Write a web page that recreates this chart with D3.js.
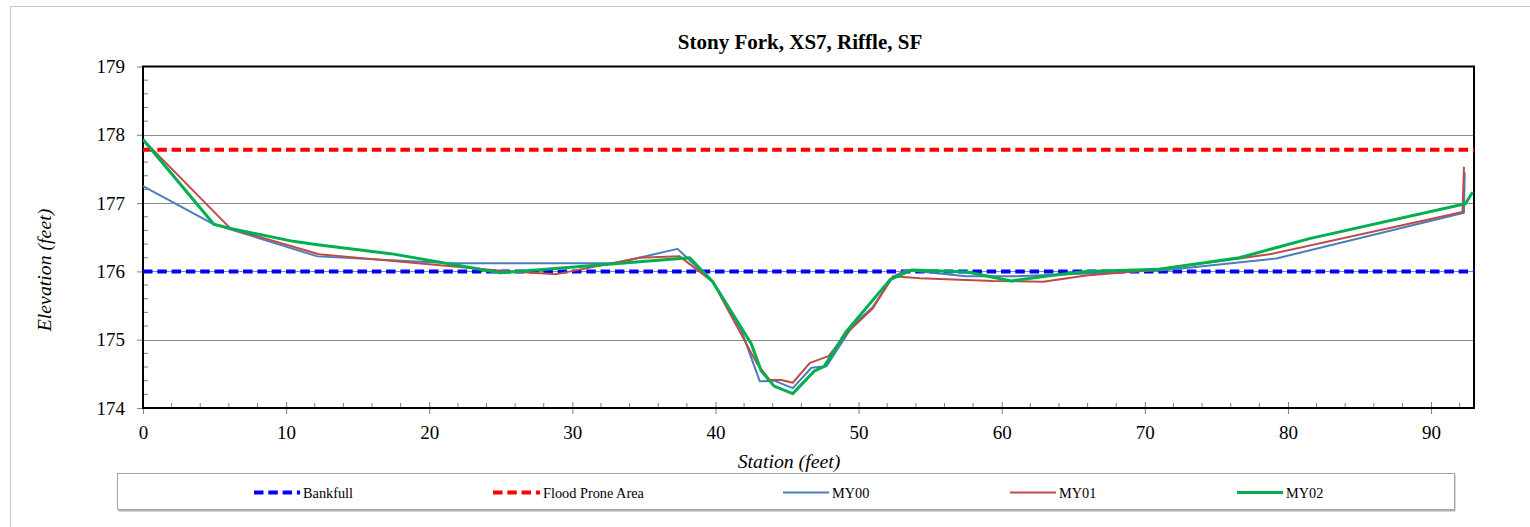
<!DOCTYPE html>
<html>
<head>
<meta charset="utf-8">
<script src="https://cdn.jsdelivr.net/npm/d3@7"></script>
<style>
  html, body { margin: 0; padding: 0; background: #fff; }
  svg { display: block; }
  svg text { font-family: "Liberation Serif", "DejaVu Serif", serif; }
</style>
</head>
<body>
<svg id="chart" width="1530" height="527"></svg>
<script>
// ---- data ----
const title = "Stony Fork, XS7, Riffle, SF";
const xTicks = [0, 10, 20, 30, 40, 50, 60, 70, 80, 90];
const yTicks = [174, 175, 176, 177, 178, 179];
const bankfull = 176.0;
const floodProne = 177.78;

const my00X = [0, 4.95, 12.2, 21.5, 33, 37.35, 39.8, 41.8, 43.1, 44.1, 45.4, 46.7, 47.75, 49.6, 51.0, 52.4, 53.3, 57.5, 61, 66, 71.5, 79.2, 92.3, 92.35];
const my00Y = [177.25, 176.69, 176.22, 176.12, 176.12, 176.33, 175.85, 175.14, 174.39, 174.40, 174.29, 174.59, 174.61, 175.21, 175.48, 175.92, 176.02, 175.93, 175.93, 175.97, 176.02, 176.19, 176.86, 177.45];

const my01X = [0, 6.1, 12.3, 25, 28.9, 34.7, 37.5, 39.8, 41.9, 42.9, 43.8, 44.6, 45.4, 46.6, 47.9, 49.2, 51.0, 52.4, 54.3, 59.4, 62.9, 65.9, 70.5, 76.6, 78.7, 92.2, 92.3];
const my01Y = [177.93, 176.63, 176.25, 176.01, 175.96, 176.2, 176.22, 175.85, 175.04, 174.65, 174.41, 174.41, 174.37, 174.66, 174.76, 175.1, 175.46, 175.93, 175.9, 175.86, 175.85, 175.94, 176.02, 176.19, 176.25, 176.87, 177.53];

const my02X = [0, 4.95, 6.1, 10.5, 12.2, 17.3, 24.95, 38.2, 39.8, 42.5, 43.2, 44.1, 45.4, 46.9, 47.6, 49.1, 52.2, 53.7, 57.6, 60.66, 63.45, 65.9, 71.0, 76.6, 81.5, 92.4, 92.9];
const my02Y = [177.93, 176.69, 176.63, 176.44, 176.39, 176.26, 175.98, 176.2, 175.85, 174.94, 174.54, 174.32, 174.21, 174.54, 174.61, 175.11, 175.88, 176.02, 175.99, 175.86, 175.94, 176.0, 176.03, 176.2, 176.48, 176.99, 177.16];

const legendNames = ["Bankfull", "Flood Prone Area", "MY00", "MY01", "MY02"];

// ---- layout ----
const FONT = "Liberation Serif, DejaVu Serif, serif";
const svg = d3.select("#chart");
const L = 143, R = 1474, T = 66.5, B = 408;
const x = d3.scaleLinear().domain([0, 93]).range([L, R]);
const y = d3.scaleLinear().domain([174, 179]).range([B, T]);

// outer chart border
svg.append("rect").attr("x", 10.5).attr("y", 6.5).attr("width", 1540).attr("height", 540)
  .attr("fill", "none").attr("stroke", "#c8c8c8").attr("stroke-width", 1);

// title
svg.append("text").attr("x", 800).attr("y", 48.5).attr("text-anchor", "middle")
  .attr("font-family", FONT).attr("font-weight", "bold").attr("font-size", 21).text(title);

// gridlines
svg.append("g").selectAll("line").data(yTicks.filter(d => d > 174 && d < 179)).join("line")
  .attr("x1", L).attr("x2", R)
  .attr("y1", d => Math.round(y(d)) + 0.5).attr("y2", d => Math.round(y(d)) + 0.5)
  .attr("stroke", "#8a8a8a").attr("stroke-width", 1);

// minor ticks
const xMinor = d3.range(0, 93, 2).filter(v => v % 10 !== 0);
svg.append("g").selectAll("line").data(xMinor).join("line")
  .attr("x1", d => x(d)).attr("x2", d => x(d)).attr("y1", B).attr("y2", B - 5)
  .attr("stroke", "#808080").attr("stroke-width", 1);
const yMinor = d3.range(174, 179.001, 0.2).filter(v => Math.abs(v - Math.round(v)) > 0.01);
svg.append("g").selectAll("line").data(yMinor).join("line")
  .attr("x1", L).attr("x2", L + 5).attr("y1", d => y(d)).attr("y2", d => y(d))
  .attr("stroke", "#808080").attr("stroke-width", 1);

// axes
const xAxis = svg.append("g").attr("transform", `translate(0,${B})`)
  .call(d3.axisBottom(x).tickValues(xTicks).tickSize(6).tickPadding(12).tickFormat(d3.format("d")));
xAxis.attr("font-family", FONT);
xAxis.select(".domain").remove();
xAxis.selectAll(".tick line").attr("y1", -6).attr("y2", 6).attr("stroke", "#808080");
xAxis.selectAll("text").attr("font-size", 19).attr("font-family", FONT).attr("fill", "#000");

const yAxis = svg.append("g").attr("transform", `translate(${L},0)`)
  .call(d3.axisLeft(y).tickValues(yTicks).tickSize(6).tickPadding(12).tickFormat(d3.format("d")));
yAxis.attr("font-family", FONT);
yAxis.select(".domain").remove();
yAxis.selectAll(".tick line").attr("stroke", "#808080");
yAxis.selectAll("text").attr("font-size", 19).attr("font-family", FONT).attr("fill", "#000");

// plot frame
svg.append("rect").attr("x", L).attr("y", T).attr("width", R - L).attr("height", B - T)
  .attr("fill", "none").attr("stroke", "#000").attr("stroke-width", 2);

// reference lines
svg.append("line").attr("x1", x(0)).attr("x2", R).attr("y1", y(bankfull)).attr("y2", y(bankfull))
  .attr("stroke", "#0000ff").attr("stroke-width", 4).attr("stroke-dasharray", "9.5,4.8");
svg.append("line").attr("x1", x(0)).attr("x2", R).attr("y1", y(floodProne)).attr("y2", y(floodProne))
  .attr("stroke", "#ff0000").attr("stroke-width", 4).attr("stroke-dasharray", "9.5,4.8");

// series
const line = d3.line().x(d => x(d[0])).y(d => y(d[1]));
const series = [
  { xs: my00X, ys: my00Y, color: "#4a7ebb", w: 2 },
  { xs: my01X, ys: my01Y, color: "#be4b48", w: 2 },
  { xs: my02X, ys: my02Y, color: "#00b050", w: 3 }
];
svg.append("clipPath").attr("id", "clip").append("rect")
  .attr("x", L).attr("y", T - 2).attr("width", R - L).attr("height", B - T + 4);
series.forEach(s => {
  svg.append("path").datum(d3.zip(s.xs, s.ys)).attr("d", line)
    .attr("fill", "none").attr("stroke", s.color).attr("stroke-width", s.w)
    .attr("stroke-linejoin", "round").attr("clip-path", "url(#clip)");
});

// axis titles
svg.append("text").attr("transform", "translate(51,270) rotate(-90)").attr("text-anchor", "middle")
  .attr("font-family", FONT).attr("font-style", "italic").attr("font-size", 19.8).text("Elevation (feet)");
svg.append("text").attr("x", 789).attr("y", 468).attr("text-anchor", "middle")
  .attr("font-family", FONT).attr("font-style", "italic").attr("font-size", 19.8).text("Station (feet)");

// legend
svg.append("rect").attr("x", 118.5).attr("y", 474.5).attr("width", 1337).attr("height", 37)
  .attr("fill", "#b0b0b0");
svg.append("rect").attr("x", 117.5).attr("y", 473.5).attr("width", 1337).attr("height", 36)
  .attr("fill", "#fff").attr("stroke", "#a6a6a6").attr("stroke-width", 1);
const legendItems = [
  { x0: 254, x1: 300, color: "#0000ff", w: 4, dash: "9.5,4.8" },
  { x0: 493, x1: 540, color: "#ff0000", w: 4, dash: "9.5,4.8" },
  { x0: 783, x1: 829, color: "#4a7ebb", w: 2, dash: null },
  { x0: 1010, x1: 1056, color: "#be4b48", w: 2, dash: null },
  { x0: 1237, x1: 1283, color: "#00b050", w: 3, dash: null }
];
const ly = 492.5;
legendItems.forEach((it, i) => {
  const ln = svg.append("line").attr("x1", it.x0).attr("x2", it.x1).attr("y1", ly).attr("y2", ly)
    .attr("stroke", it.color).attr("stroke-width", it.w);
  if (it.dash) ln.attr("stroke-dasharray", it.dash);
  svg.append("text").attr("x", it.x1 + 3).attr("y", ly + 5).attr("font-family", FONT).attr("font-size", 14.3)
    .text(legendNames[i]);
});
</script>
</body>
</html>
